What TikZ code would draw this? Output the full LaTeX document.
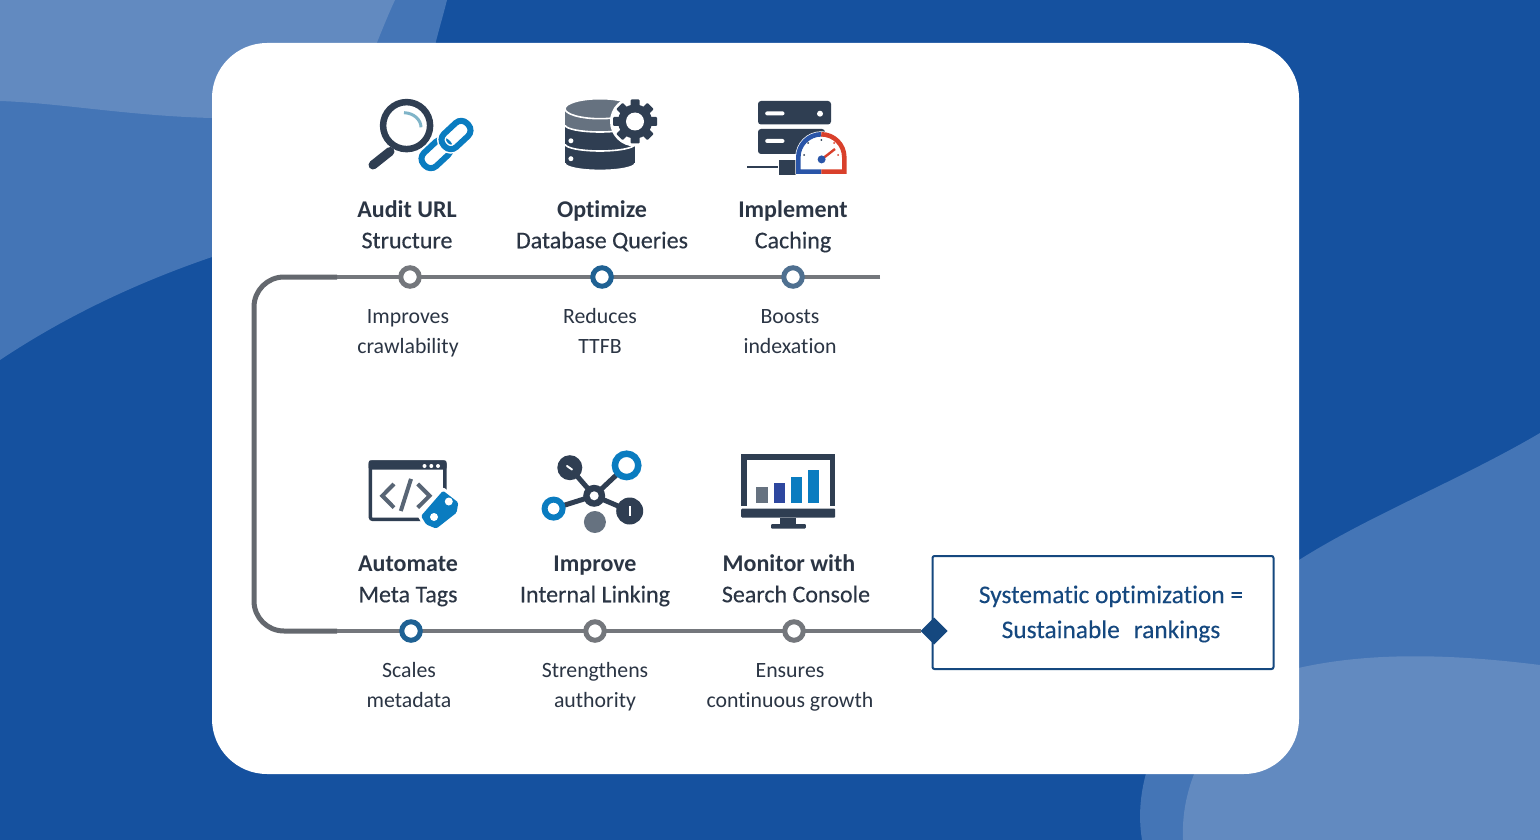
\documentclass[tikz,border=0pt]{standalone}
\usepackage{fontspec}
\setmainfont[Ligatures=NoCommon]{Carlito}
\newfontfamily\mediumfont[Ligatures=NoCommon, FakeBold=0.25]{Carlito}
\usetikzlibrary{positioning, shapes.geometric}

\definecolor{bgblue}{HTML}{15519F}
\definecolor{midblue}{HTML}{4475B6}
\definecolor{paleblue}{HTML}{628AC0}
\definecolor{inkdark}{HTML}{2F3E52}
\definecolor{inkgray}{HTML}{667280}
\definecolor{inktext}{HTML}{2B3544}
\definecolor{linkblue}{HTML}{0A7CC0}
\definecolor{trackgray}{HTML}{74777C}
\definecolor{trackdark}{HTML}{64686E}
\definecolor{navy}{HTML}{15487F}
\definecolor{stopblue}{HTML}{1F6193}
\definecolor{stopslate}{HTML}{4F7090}
\definecolor{gaugeblue}{HTML}{2A55A8}
\definecolor{gaugered}{HTML}{D9402B}
\definecolor{barindigo}{HTML}{2E479F}
\definecolor{glint}{HTML}{7FB4C8}

\begin{document}
\begin{tikzpicture}[
  x=1pt, y=-1pt,
  stoppoint/.style={draw=#1, circle, fill=white, line width=5pt, minimum size=18.5pt, inner sep=0pt},
  steptitle/.style={align=center, inner sep=0pt, text=inktext, font=\fontsize{24}{31}\selectfont, execute at end node=\strut},
  stepnote/.style={align=center, inner sep=0pt, text=inktext, font=\fontsize{21.8}{30}\selectfont},
  track/.style={draw=trackgray, line width=4.5pt},
  goalframe/.style={draw=navy, line width=2pt, rounded corners=2pt, minimum width=341pt, minimum height=113pt},
  goaltext/.style={align=center, inner sep=0pt, text=navy, font=\mediumfont\fontsize{25.4}{35}\selectfont},
  goaldiamond/.style={diamond, fill=navy, inner sep=0pt, outer sep=0pt, minimum size=27pt}
]
\useasboundingbox (0,0) rectangle (1540,840);
\fill[bgblue] (0,0) rectangle (1540,840);
\fill[midblue] (0,0) -- (447,0) .. controls (442,20) and (438,32) .. (434,50) -- (212,257) .. controls (130,285) and (60,320) .. (0,360) -- cycle;
\fill[paleblue] (0,0) -- (395,0) .. controls (388,15) and (382,30) .. (370,60) -- (212,118) .. controls (130,116) and (60,103) .. (0,101) -- cycle;
\fill[midblue] (1299,560) .. controls (1370,515) and (1460,480) .. (1540,433) -- (1540,840) -- (1142,840) .. controls (1138,815) and (1140,790) .. (1150,760) -- cycle;
\fill[paleblue] (1290,670) .. controls (1370,650) and (1460,655) .. (1540,665) -- (1540,840) -- (1183,840) .. controls (1182,815) and (1186,790) .. (1200,760) -- cycle;
\fill[white, rounded corners=55pt] (212,43) rectangle (1299,774);

\coordinate (trackend) at (880,277);
\coordinate (cornertop) at (254,277);
\coordinate (cornerbottom) at (254,631);
\coordinate (jointop) at (337,277);
\coordinate (joinbottom) at (337,631);
\node[goalframe] (goalbox) at (1103,612.5) {};
\node[goaltext] (goalnote) at (1111,614) {Systematic optimization =\\Sustainable\hspace{14pt}rankings};
\node[goaldiamond] (goalmark) at (934,631) {};

\draw[track] (trackend) -- (jointop);
\draw[track, draw=trackdark, line width=5pt, rounded corners=30pt] (jointop) -- (cornertop) -- (cornerbottom) -- (joinbottom);
\draw[track] (joinbottom) -- (goalmark);

\node[stoppoint=trackgray] (auditstop) at (410,277) {};
\node[stoppoint=stopblue] (querystop) at (602,277) {};
\node[stoppoint=stopslate] (cachestop) at (793,277) {};
\node[stoppoint=stopblue] (metastop) at (411,631) {};
\node[stoppoint=trackgray] (linkstop) at (595,631) {};
\node[stoppoint=trackgray] (consolestop) at (794,631) {};

\node[steptitle, above=7.5pt of auditstop, xshift=-3pt] (audittitle) {\textbf{Audit URL}\\\mediumfont Structure};
\node[steptitle, above=7.5pt of querystop] (querytitle) {\textbf{Optimize}\\\mediumfont Database Queries};
\node[steptitle, above=7.5pt of cachestop] (cachetitle) {\textbf{Implement}\\\mediumfont Caching};
\node[steptitle, above=7.5pt of metastop, xshift=-3pt] (metatitle) {\textbf{Automate}\\\mediumfont Meta Tags};
\node[steptitle, above=7.5pt of linkstop] (linktitle) {\textbf{Improve}\\\mediumfont Internal Linking};
\node[steptitle, above=7.5pt of consolestop, xshift=2pt] (consoletitle) {\hspace*{-14pt}\textbf{Monitor with}\\\mediumfont Search Console};

\node[stepnote, below=65pt of auditstop, anchor=base, xshift=-2pt] (auditnote) {Improves\\crawlability};
\node[stepnote, below=65pt of querystop, anchor=base, xshift=-2pt] (querynote) {Reduces\\TTFB};
\node[stepnote, below=65pt of cachestop, anchor=base, xshift=-3pt] (cachenote) {Boosts\\indexation};
\node[stepnote, below=65pt of metastop, anchor=base, xshift=-2pt] (metanote) {Scales\\metadata};
\node[stepnote, below=65pt of linkstop, anchor=base] (linknote) {Strengthens\\authority};
\node[stepnote, below=65pt of consolestop, anchor=base, xshift=-4pt] (consolenote) {Ensures\\continuous growth};

\draw[inkdark, line width=6.5pt] (406.6,125.6) circle (23.5pt);
\draw[inkdark, line width=9pt, line cap=round] (390,151.5) -- (373,165);
\draw[glint, line width=3pt] (404,112.7) .. controls (414,113) and (421,120) .. (421,127.3);
\begin{scope}[shift={(436,154)}, rotate=43]
\draw[white, line width=9pt, rounded corners=8pt] (-16,-9) rectangle (16,9);
\draw[linkblue, line width=6pt, rounded corners=8pt] (-16,-9) rectangle (16,9);
\end{scope}
\begin{scope}[shift={(456,135)}, rotate=43]
\draw[white, line width=9pt, rounded corners=8pt] (-16,-9) rectangle (16,9);
\draw[linkblue, line width=6pt, rounded corners=8pt] (-16,-9) rectangle (16,9);
\end{scope}

\foreach \tiertop/\tierbottom/\tiercolor in {144/163.4/inkdark, 125/144/inkdark, 108.7/125/inkgray} {
  \fill[\tiercolor, draw=white, line width=1.6pt] (600,\tierbottom) ellipse (35pt and 7pt);
  \fill[\tiercolor] (565,\tiertop) rectangle (635,\tierbottom);
}
\fill[inkgray, draw=white, line width=1.6pt] (600,108.7) ellipse (35pt and 10pt);
\fill[white] (570.9,140.8) circle (2.5pt) (570.9,158.7) circle (2.5pt);
\fill[white] (635,121.5) circle (25pt);
\foreach \toothangle in {0,45,...,315} {
  \fill[inkdark, shift={(635,121.5)}, rotate=\toothangle, rounded corners=1pt] (13,-4.5) rectangle (22,4.5);
}
\fill[inkdark] (635,121.5) circle (17pt);
\fill[white] (635,121.5) circle (9pt);

\fill[inkdark, rounded corners=3pt] (758,101) rectangle (831,124.5);
\fill[white, rounded corners=2pt] (765.2,111.4) rectangle (784.5,115.4);
\fill[white] (820,113.7) circle (3pt);
\fill[inkdark, rounded corners=3pt] (758,129) rectangle (825,154);
\fill[white, rounded corners=2pt] (765.2,139) rectangle (784.5,143);
\draw[inkdark, line width=1.6pt] (747.3,167) -- (777.7,167);
\fill[inkdark] (779.4,160) rectangle (796,174.6);
\fill[white, draw=white, line width=6pt] (798.3,171.6) -- (798.3,157.3) .. controls (798.3,144.6) and (808.6,134.3) .. (821.3,134.3) .. controls (834,134.3) and (844.3,144.6) .. (844.3,157.3) -- (844.3,171.6) -- cycle;
\draw[gaugeblue, line width=4.6pt] (821.3,171.6) -- (798.3,171.6) -- (798.3,157.3) .. controls (798.3,144.6) and (808.6,134.3) .. (821.3,134.3);
\draw[gaugered, line width=4.6pt] (821.3,171.6) -- (844.3,171.6) -- (844.3,157.3) .. controls (844.3,144.6) and (834,134.3) .. (821.3,134.3);
\draw[gaugered, line width=2.4pt] (821.6,159.4) -- (835,149);
\fill[gaugeblue] (821.6,159.4) circle (4pt);
\fill[inkdark] (804,155) circle (1pt) (808,143) circle (1pt) (821.3,140) circle (1pt);
\fill[gaugered] (838,155) circle (1pt) (834,143) circle (1pt);

\draw[inkdark, line width=3.4pt, rounded corners=2pt] (370.4,462) rectangle (444.8,519.3);
\fill[inkdark, rounded corners=2pt] (368.7,460.3) rectangle (446.5,469.7);
\fill[white] (424.5,466) circle (2pt) (431.3,466) circle (2pt) (438,466) circle (2pt);
\draw[inkgray!75!inkdark, line width=4pt] (394,484) -- (382.3,495.8) -- (394,507.6);
\draw[inkgray!75!inkdark, line width=4pt] (411,478.9) -- (400.8,511);
\draw[inkgray!75!inkdark, line width=4pt] (417.7,484) -- (429.6,495.8) -- (417.7,507.6);
\fill[linkblue, draw=white, line width=6pt, line join=round] (443,490.7) -- (458.3,502.5) -- (456.6,512.7) -- (436.3,528.6) -- (426.2,524.5) -- (421,516) -- cycle;
\fill[linkblue, rounded corners=1.5pt] (443,490.7) -- (458.3,502.5) -- (456.6,512.7) -- (436.3,528.6) -- (426.2,524.5) -- (421,516) -- cycle;
\fill[white] (448.8,501.5) circle (4pt) (434,517) circle (4pt);

\draw[inkdark, line width=5pt] (569.8,467.7) -- (594.2,495.8);
\draw[inkdark, line width=5pt] (626.6,465.4) -- (594.2,495.8);
\draw[inkdark, line width=5pt] (553.6,508.6) -- (594.2,495.8);
\draw[inkdark, line width=5pt] (629.7,511) -- (594.2,495.8);
\fill[inkdark] (594.2,495.8) circle (11pt);
\fill[white] (594.2,495.8) circle (4.5pt);
\fill[inkdark] (569.8,467.7) circle (12.5pt);
\draw[white, line width=2pt, line cap=round] (567,466) -- (572,469.5);
\draw[linkblue, line width=6.5pt, fill=white] (626.6,465.4) circle (11.7pt);
\draw[linkblue, line width=6pt, fill=white] (553.6,508.6) circle (9pt);
\fill[inkdark] (629.7,511) circle (13.5pt);
\draw[white, line width=2.4pt] (629.7,506) -- (629.7,516);
\fill[inkgray] (594.9,522) circle (11pt);

\draw[inkdark, line width=5.4pt] (744,505.9) -- (744,457) -- (832.5,457) -- (832.5,505.9);
\fill[inkdark, rounded corners=1pt] (741.2,508.6) rectangle (835.2,517.7);
\fill[inkdark] (780,517.7) rectangle (796.3,524);
\fill[inkdark, rounded corners=1pt] (771,524) rectangle (805.8,528.6);
\fill[inkgray] (756.4,487.3) rectangle (767.6,502.9);
\fill[barindigo] (773.7,482.9) rectangle (784.8,502.9);
\fill[linkblue] (790.6,476.5) rectangle (802,502.9);
\fill[linkblue] (807.8,470.4) rectangle (819.3,502.9);
\end{tikzpicture}
\end{document}
